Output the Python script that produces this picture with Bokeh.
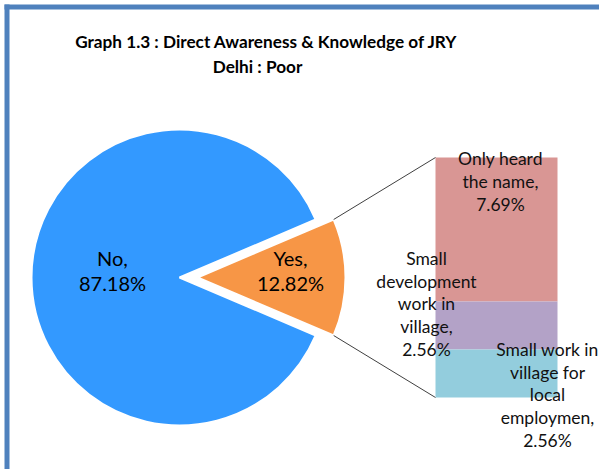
import numpy as np
from bokeh.plotting import figure
from bokeh.models import Range1d, ColumnDataSource
from bokeh.core.properties import value
from bokeh.embed import file_html
from bokeh.resources import INLINE

# ---- data ----
title_lines = ["Graph 1.3 : Direct Awareness & Knowledge of JRY", "Delhi : Poor"]
main_labels = ["No", "Yes"]
main_values = [87.18, 12.82]
main_colors = ["#3399FF", "#F79646"]
sub_labels = ["Only heard\nthe name", "Small\ndevelopment\nwork in\nvillage",
              "Small work in\nvillage for\nlocal\nemploymen"]
sub_values = [7.69, 2.56, 2.56]
sub_colors = ["#D99694", "#B3A2C7", "#93CDDD"]

# ---- layout (pixels) ----
W, H = 599, 469
FONT = "Lato"

p = figure(width=W, height=H, x_range=Range1d(0, W), y_range=Range1d(0, H),
           output_backend="svg", toolbar_location=None, min_border=0,
           x_axis_location=None, y_axis_location=None)
p.grid.visible = False
p.outline_line_color = None
p.background_fill_color = "white"
p.border_fill_color = "white"

def Y(page_y):
    return H - page_y

# frame (top and left bands)
p.quad(left=[4, 4], right=[W, 9], bottom=[Y(9), 0], top=[Y(4), Y(4)],
       fill_color="#4F81BD", line_color=None)

# ---- pie ----
R = 148
cy = Y(277)
yes_frac = main_values[1] / sum(main_values)
yes_ang = 2 * np.pi * yes_frac
centers_x = [179, 197]
starts = [yes_ang / 2, -yes_ang / 2]
ends = [2 * np.pi - yes_ang / 2, yes_ang / 2]
pie = ColumnDataSource(dict(x=centers_x, y=[cy, cy], start=starts, end=ends, color=main_colors))
p.wedge(x="x", y="y", radius=R, radius_units="screen", start_angle="start", end_angle="end",
        fill_color="color", line_color="white", line_width=2, source=pie)

# pie labels
pie_lab_x = [112, 290]
pie_lab_y = [Y(270), Y(270)]
pie_text = [f"{l},\n{v:.2f}%" for l, v in zip(main_labels, main_values)]
p.text(x=pie_lab_x, y=pie_lab_y, text=pie_text, text_align="center", text_baseline="middle",
       text_font=value(FONT), text_font_size="20px", text_line_height=1.08, text_color="black")

# ---- bar of pie ----
bar_left, bar_right = 435, 557
bar_bottom_px, bar_top_px = Y(397), Y(157)
scale = (bar_top_px - bar_bottom_px) / sum(sub_values)
tops, bottoms = [], []
cur = bar_bottom_px
for v in reversed(sub_values):
    bottoms.insert(0, cur)
    cur += v * scale
    tops.insert(0, cur)
p.quad(left=bar_left, right=bar_right, bottom=bottoms, top=tops, fill_color=sub_colors, line_color=None)

# connector lines
cx_yes = centers_x[1]
ux = cx_yes + R * np.cos(yes_ang / 2)
uy = cy + R * np.sin(yes_ang / 2)
ly = cy - R * np.sin(yes_ang / 2)
p.segment(x0=[ux, ux], y0=[uy, ly], x1=[bar_left, bar_left], y1=[tops[0], bottoms[-1]],
          line_color="#404040", line_width=1)

sub_text = [f"{l},\n{v:.2f}%" for l, v in zip(sub_labels, sub_values)]
sub_x = [500, 426, 547]
sub_y = [Y(181), Y(303.5), Y(394.5)]
p.text(x=sub_x, y=sub_y, text=sub_text, text_align="center", text_baseline="middle",
       text_font=value(FONT), text_font_size="17.5px", text_line_height=1.08, text_color="#111111")

# ---- title ----
p.text(x=[266, 257], y=[Y(41), Y(66)], text=title_lines, text_align="center", text_baseline="middle",
       text_font=value(FONT), text_font_size="17.2px", text_font_style="bold", text_color="black")

open("out.html", "w").write(file_html(p, INLINE))
